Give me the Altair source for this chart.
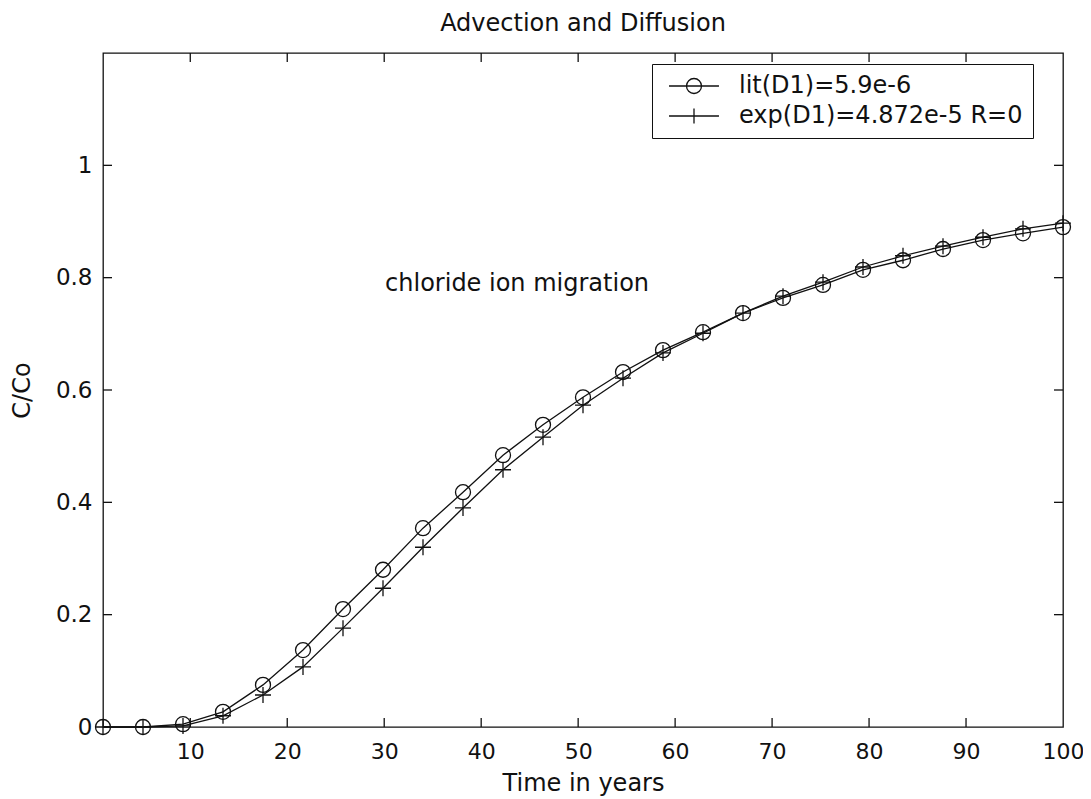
import altair as alt
import pandas as pd

# ---- data ----
time_years = [1, 5.125, 9.25, 13.375, 17.5, 21.625, 25.75, 29.875, 34, 38.125,
              42.25, 46.375, 50.5, 54.625, 58.75, 62.875, 67, 71.125, 75.25,
              79.375, 83.5, 87.625, 91.75, 95.875, 100]
lit_values = [0.0, 0.0, 0.005, 0.027, 0.075, 0.137, 0.210, 0.280, 0.354, 0.418,
              0.484, 0.538, 0.587, 0.632, 0.671, 0.703, 0.737, 0.764, 0.787,
              0.814, 0.831, 0.851, 0.867, 0.879, 0.890]
exp_values = [0.0, 0.0, 0.002, 0.020, 0.057, 0.107, 0.176, 0.247, 0.320, 0.390,
              0.458, 0.516, 0.573, 0.621, 0.666, 0.701, 0.737, 0.767, 0.792,
              0.819, 0.839, 0.856, 0.872, 0.887, 0.897]
series_names = ["lit(D1)=5.9e-6", "exp(D1)=4.872e-5 R=0"]
x_ticks = [10, 20, 30, 40, 50, 60, 70, 80, 90, 100]
y_ticks = [0, 0.2, 0.4, 0.6, 0.8, 1]
x_inner_ticks = [10, 20, 30, 40, 50, 60, 70, 80, 90]
y_inner_ticks = [0.2, 0.4, 0.6, 0.8, 1]
chart_title = "Advection and Diffusion"
x_title = "Time in years"
y_title = "C/Co"
note_text = "chloride ion migration"
note_x = [43.7]
note_y = [0.776]

rows = []
for name, vals in zip(series_names, [lit_values, exp_values]):
    for t, v in zip(time_years, vals):
        rows.append({"t": t, "c": v, "series": name})
df = pd.DataFrame(rows)

FONT = "DejaVu Sans"
INK = "#111111"
W, H = 960, 674
TICK = 9
PLUS = "M-1,0L1,0M0,-1L0,1"
LEG_CIRC = "M-3.33,0L3.33,0M1,0A1,1,0,1,1,-1,0A1,1,0,1,1,1,0"
LEG_PLUS = "M-3.33,0L3.33,0M0,-1L0,1"

xs = alt.Scale(domain=[1, 100], nice=False, zero=False)
ys = alt.Scale(domain=[0, 1.2], nice=False, zero=False)

axis_common = dict(domain=False, grid=False, ticks=False, tickSize=0,
                   labelColor=INK, labelFont=FONT,
                   titleFont=FONT, titleFontSize=24, titleFontWeight="normal",
                   titleColor=INK)

base = alt.Chart(df)

lines = base.mark_line(color=INK, strokeWidth=1.3).encode(
    x=alt.X("t:Q", scale=xs,
            axis=alt.Axis(values=x_ticks, title=x_title, labelPadding=14,
                          labelFontSize=22, titlePadding=9, labelFlush=False,
                          **axis_common)),
    y=alt.Y("c:Q", scale=ys,
            axis=alt.Axis(values=y_ticks, format="~g", title=y_title,
                          labelFontSize=23, labelPadding=11, titlePadding=21,
                          **axis_common)),
    detail="series:N",
)

points = base.mark_point(filled=False, color=INK, strokeWidth=1.3, opacity=1).encode(
    x="t:Q",
    y="c:Q",
    shape=alt.Shape("series:N",
                    scale=alt.Scale(domain=series_names, range=["circle", PLUS]),
                    legend=None),
    size=alt.Size("series:N",
                  scale=alt.Scale(domain=series_names, range=[225, 256]),
                  legend=None),
)

legend_layer = base.mark_point(filled=False, color=INK, opacity=0).encode(
    x="t:Q",
    y="c:Q",
    shape=alt.Shape("series:N",
                    scale=alt.Scale(domain=series_names, range=[LEG_CIRC, LEG_PLUS]),
                    sort=series_names,
                    legend=alt.Legend(
                        title=None, orient="none", legendX=549, legendY=11,
                        strokeColor=INK, fillColor="white", padding=10,
                        cornerRadius=0, symbolSize=225, symbolOpacity=1,
                        symbolStrokeColor=INK, symbolFillColor="transparent",
                        symbolStrokeWidth=1.3, symbolOffset=20,
                        labelOffset=33, labelFont=FONT, labelFontSize=24,
                        labelColor=INK, labelLimit=400, rowPadding=6,
                    )),
)

xt = pd.DataFrame({"v": x_inner_ticks})
yt = pd.DataFrame({"v": y_inner_ticks})
tick_style = dict(color=INK, strokeWidth=1.3)
xb = alt.Chart(xt).mark_rule(**tick_style).encode(
    x=alt.X("v:Q", scale=xs), y=alt.value(H), y2=alt.value(H - TICK))
xtop = alt.Chart(xt).mark_rule(**tick_style).encode(
    x=alt.X("v:Q", scale=xs), y=alt.value(0), y2=alt.value(TICK))
yl = alt.Chart(yt).mark_rule(**tick_style).encode(
    y=alt.Y("v:Q", scale=ys), x=alt.value(0), x2=alt.value(TICK))
yr = alt.Chart(yt).mark_rule(**tick_style).encode(
    y=alt.Y("v:Q", scale=ys), x=alt.value(W), x2=alt.value(W - TICK))

note_df = pd.DataFrame({"x": note_x, "y": note_y, "label": [note_text]})
note = alt.Chart(note_df).mark_text(
    font=FONT, fontSize=24, color=INK, align="center", baseline="alphabetic"
).encode(x=alt.X("x:Q", scale=xs), y=alt.Y("y:Q", scale=ys), text="label:N")

chart = alt.layer(lines, points, legend_layer, xb, xtop, yl, yr, note).resolve_scale(
    shape="independent"
).properties(
    width=W, height=H,
    background="white",
    title=alt.Title(chart_title, font=FONT, fontSize=24, fontWeight="normal",
                    color=INK, offset=16),
    autosize=alt.AutoSizeParams(type="none"),
    padding={"left": 95, "top": 45, "right": 20, "bottom": 70},
).configure_view(
    stroke=INK, strokeWidth=1.3
)

chart.save("out.html", embed_options={"renderer": "svg", "actions": False})
